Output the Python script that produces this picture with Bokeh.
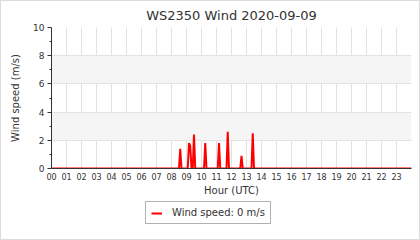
from bokeh.plotting import figure
from bokeh.models import FixedTicker, Legend, LegendItem, Range1d, InlineStyleSheet
from bokeh.layouts import column
from bokeh.embed import file_html
from bokeh.resources import INLINE

# Data (hours UTC, wind speed m/s)
hours = [0.0, 8.5, 8.583, 8.667, 9.083, 9.167, 9.25, 9.333, 9.417, 9.5, 9.583,
         10.167, 10.25, 10.333, 11.083, 11.167, 11.25, 11.667, 11.75, 11.833,
         12.583, 12.667, 12.75, 13.333, 13.417, 13.5, 24.0]
speed = [0.0, 0.0, 1.4, 0.0, 0.0, 1.8, 1.6, 0.0, 0.0, 2.4, 0.0,
         0.0, 1.8, 0.0, 0.0, 1.8, 0.0, 0.0, 2.6, 0.0,
         0.0, 0.9, 0.0, 0.0, 2.5, 0.0, 0.0]
hour_ticks = list(range(24))
hour_labels = ["%02d" % h for h in hour_ticks]
y_ticks = [0, 2, 4, 6, 8, 10]
title_text = "WS2350 Wind 2020-09-09"
legend_text = "Wind speed: 0 m/s"

FONT = "DejaVu Sans"
TXT = "#333333"

p = figure(width=420, height=198, output_backend="svg", toolbar_location=None,
           x_range=Range1d(0, 24), y_range=Range1d(0, 10),
           min_border_left=51, min_border_right=9, min_border_top=25, min_border_bottom=28)

p.title.text = title_text
p.title.align = "center"
p.title.text_font = FONT
p.title.text_font_size = "13px"
p.title.text_font_style = "normal"
p.title.text_color = TXT

p.xaxis.ticker = FixedTicker(ticks=hour_ticks)
p.xaxis.major_label_overrides = {t: l for t, l in zip(hour_ticks, hour_labels)}
p.xaxis.axis_label = "Hour (UTC)"
p.yaxis.ticker = FixedTicker(ticks=y_ticks, minor_ticks=[1, 3, 5, 7, 9])
p.yaxis.axis_label = "Wind speed (m/s)"

for ax in (p.xaxis[0], p.yaxis[0]):
    ax.axis_label_text_font = FONT
    ax.axis_label_text_font_size = "10px"
    ax.axis_label_text_font_style = "normal"
    ax.axis_label_text_color = TXT
    ax.major_label_text_font = FONT
    ax.major_label_text_color = TXT
    ax.axis_line_color = "#333333"
    ax.major_tick_line_color = "#333333"
    ax.minor_tick_line_color = "#333333"

p.xaxis.major_label_text_font_size = "8px"
p.xaxis.major_tick_line_color = None
p.xaxis.minor_tick_line_color = None
p.xaxis.major_tick_out = 0
p.xaxis.major_tick_in = 0
p.xaxis.minor_tick_out = 0
p.xaxis.minor_tick_in = 0
p.xaxis.major_label_standoff = 4
p.xaxis.axis_label_standoff = 2
p.yaxis.major_label_text_font_size = "9px"
p.yaxis.major_tick_in = 0
p.yaxis.major_tick_out = 4
p.yaxis.minor_tick_in = 0
p.yaxis.minor_tick_out = 2
p.yaxis.major_label_standoff = 3
p.yaxis.axis_label_standoff = 9

p.xgrid.grid_line_color = "#e2e2e2"
p.ygrid.grid_line_color = "#e2e2e2"
p.ygrid.band_fill_color = "#f5f5f5"
p.ygrid.band_fill_alpha = 1.0
p.outline_line_color = None

r = p.line(hours, speed, line_color="red", line_width=2)

# Legend panel below the chart
q = figure(width=420, height=42, output_backend="svg", toolbar_location=None,
           x_range=Range1d(0, 1), y_range=Range1d(0, 1),
           min_border=0, x_axis_location=None, y_axis_location=None)
q.grid.visible = False
q.outline_line_color = None
rq = q.line([-2, -1], [-2, -1], line_color="red", line_width=2)
legend = Legend(items=[LegendItem(label=legend_text, renderers=[rq])],
                location=(94, 16), orientation="horizontal",
                label_text_font=FONT, label_text_font_size="10px", label_text_color=TXT,
                border_line_color="#666666", border_line_width=1,
                background_fill_alpha=1.0, glyph_width=11, glyph_height=10,
                label_height=10, padding=5, spacing=0, margin=0, label_standoff=10)
q.add_layout(legend, "center")

layout = column(p, q, spacing=0)
border_css = InlineStyleSheet(css=":host { position: relative; } :host::after { content: ''; position: absolute; left: 0; top: 0; right: 0; bottom: 0; border: 1px solid #dcdcdc; pointer-events: none; z-index: 100; }")
layout.stylesheets = [border_css]

open("out.html", "w").write(file_html(layout, INLINE))
